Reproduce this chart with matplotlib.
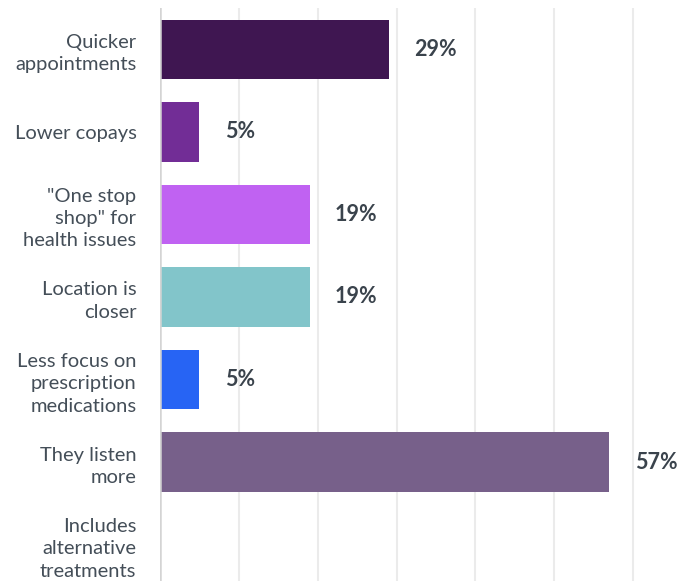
import matplotlib.pyplot as plt

reasons = ["Quicker\nappointments", "Lower copays", "\"One stop\nshop\" for\nhealth issues",
           "Location is\ncloser", "Less focus on\nprescription\nmedications",
           "They listen\nmore", "Includes\nalternative\ntreatments"]
percent = [29, 5, 19, 19, 5, 57, 0]
colors = ["#3f1651", "#722d96", "#c062f2", "#82c5ca", "#2764f4", "#77608a", "#cccccc"]

plt.rcParams['font.family'] = ['Lato', 'DejaVu Sans']

fig = plt.figure(figsize=(6.78, 5.81), dpi=100)
ax = fig.add_axes([160 / 678, 0, 518 / 678, 1 - 8 / 581])

y = list(range(len(reasons)))
ax.barh(y, percent, height=0.72, color=colors, zorder=3)

for i, v in enumerate(percent):
    if v > 0:
        ax.text(v + 3.2, i, f"{v}%", va="center", ha="left", fontsize=15.5,
                fontweight="bold", color="#3a434c")

ax.set_xlim(0, 65.7)
ax.set_ylim(6.44, -0.5)
ax.set_xticks([10, 20, 30, 40, 50, 60])
ax.grid(axis="x", color="#ebebeb", linewidth=1.5, zorder=0)
ax.axvline(0, color="#d4d4d4", linewidth=1.8, zorder=4)
ax.tick_params(axis="x", length=0, labelbottom=False)
ax.tick_params(axis="y", length=0, pad=17)
ax.set_yticks(y)
ax.set_yticklabels(reasons, fontsize=14.5, color="#444e58", linespacing=1.38, ha="right")
for s in ax.spines.values():
    s.set_visible(False)

fig.savefig("out.png", dpi=100)
